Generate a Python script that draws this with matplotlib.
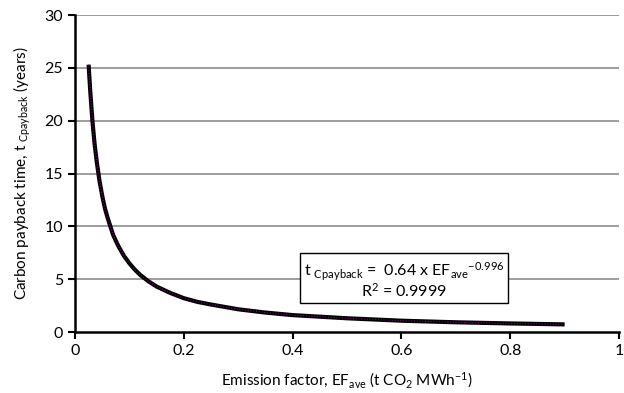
import matplotlib
matplotlib.use("Agg")
import matplotlib.pyplot as plt

plt.rcParams['font.family'] = ['Lato', 'DejaVu Sans']
plt.rcParams['mathtext.default'] = 'regular'

# values
ef = [0.025, 0.028, 0.032, 0.036, 0.04, 0.045, 0.05, 0.055, 0.06, 0.07,
      0.08, 0.09, 0.10, 0.11, 0.12, 0.135, 0.15, 0.175, 0.20, 0.225,
      0.25, 0.30, 0.35, 0.40, 0.50, 0.60, 0.70, 0.80, 0.90]
payback = [25.3, 22.8, 20.0, 17.8, 16.1, 14.3, 12.9, 11.7, 10.8, 9.2,
           8.1, 7.2, 6.5, 5.9, 5.4, 4.8, 4.3, 3.7, 3.2, 2.85,
           2.6, 2.15, 1.84, 1.6, 1.3, 1.07, 0.92, 0.81, 0.72]
xticks = [0, 0.2, 0.4, 0.6, 0.8, 1]
xticklabels = ['0', '0.2', '0.4', '0.6', '0.8', '1']
yticks = [0, 5, 10, 15, 20, 25, 30]

fig = plt.figure(figsize=(6.24, 3.93), dpi=100)
ax = fig.add_axes([0.1202, 0.1552, 0.8718, 0.8066])

for y in yticks[1:]:
    ax.axhline(y, color='#8c8c8c', lw=1.2, zorder=1)

ax.plot(ef, payback, color='black', lw=3, solid_capstyle='butt',
        solid_joinstyle='round', zorder=3)
ax.plot(ef, payback, color='#800080', lw=0.8, ls=(0, (1, 1.5)), zorder=4)

ax.set_xlim(0, 1)
ax.set_ylim(0, 30)
ax.set_xticks(xticks)
ax.set_xticklabels(xticklabels)
ax.set_yticks(yticks)
ax.tick_params(labelsize=11.5, width=1.5, length=5, direction='out')
ax.spines['top'].set_visible(False)
ax.spines['right'].set_visible(False)
ax.spines['left'].set_linewidth(1.8)
ax.spines['bottom'].set_linewidth(1.8)

ax.set_xlabel('Emission factor, EF$_{ave}$ (t CO$_2$ MWh$^{-1}$)', fontsize=11, labelpad=9)
ax.set_ylabel('Carbon payback time, t $_{Cpayback}$ (years)', fontsize=11, labelpad=8)

ax.text(0.605, 4.9,
        't $_{Cpayback}$ =  0.64 x EF$_{ave}$$^{-0.996}$\nR$^{2}$ = 0.9999',
        ha='center', va='center', fontsize=11.5, linespacing=0.95, zorder=5,
        bbox=dict(boxstyle='square,pad=0.22', fc='white', ec='black', lw=1))

fig.savefig('out.png', dpi=100)
